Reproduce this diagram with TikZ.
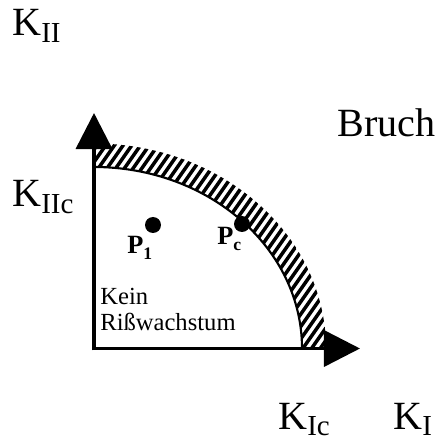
\documentclass[tikz,border=0pt]{standalone}
\usepackage{fontspec}
\setmainfont{Liberation Serif}
\usetikzlibrary{arrows.meta}
\newcommand{\bigsub}[1]{\raisebox{-3.5pt}{\fontsize{16.5}{18}\selectfont #1}}
\newcommand{\smallsub}[1]{\raisebox{-3pt}{\fontsize{10}{11}\selectfont #1}}

\begin{document}
\begin{tikzpicture}[x=0.02cm, y=0.02cm,
        axis/.style={line width=2pt, shorten <=-1pt, -{Triangle[length=20.5pt, width=20.5pt]}},
        biglabel/.style={font=\fontsize{22.8}{26}\selectfont, inner sep=0pt, anchor=base west},
        smalllabel/.style={font=\fontsize{14}{16}\selectfont, inner sep=0pt, anchor=base west},
        plabel/.style={font=\fontsize{15}{17}\selectfont\bfseries, inner sep=0pt, anchor=base west},
        dot/.style={circle, fill=black, inner sep=0pt, minimum size=0.32cm},
        hatch/.style={line width=2pt},
      ]
      \useasboundingbox (-94,-90.5) rectangle (342,348.5);
      % Hatched band (Bruch)
      \begin{scope}
        \clip (0,0) -- (232,0) arc[start angle=0, end angle=90, x radius=232, y radius=205] -- cycle;
        \foreach \k in {-18,...,28}
          \draw [hatch] (8.7*\k,0) -- ++(210,300);
      \end{scope}
      \fill [white] (0,0) -- (208,0) arc[start angle=0, end angle=90, x radius=208, y radius=181.5] -- cycle;
      \draw [line width=1.2pt] (208,0) arc[start angle=0, end angle=90, x radius=208, y radius=181.5];
      % Axes
      \coordinate (origin) at (0,0);
      \coordinate (kiitip) at (0,235.5);
      \coordinate (kitip) at (266,0);
      \draw [axis] (origin) -- (kiitip);
      \draw [axis] (origin) -- (kitip);
      % Labels
      \node [biglabel] (kii) at (-82,312.5) {K\bigsub{II}};
      \node [biglabel] (kiic) at (-82,141.5) {K\bigsub{IIc}};
      \node [biglabel] (kic) at (184,-80.5) {K\bigsub{Ic}};
      \node [biglabel] (ki) at (299,-80.5) {K\bigsub{I}};
      \node [biglabel] (bruch) at (243,211.5) {Bruch};
      \node [smalllabel] (kein) at (6,43.5) {Kein};
      \node [smalllabel] (riss) at (6,18.5) {Rißwachstum};
      % Points
      \node [dot] (p1) at (59,123.5) {};
      \node [dot] (pc) at (148,124.5) {};
      \node [plabel] (p1label) at (33,94.5) {P\smallsub{1}};
      \node [plabel] (pclabel) at (123,103.5) {P\smallsub{c}};
    \end{tikzpicture}
\end{document}
